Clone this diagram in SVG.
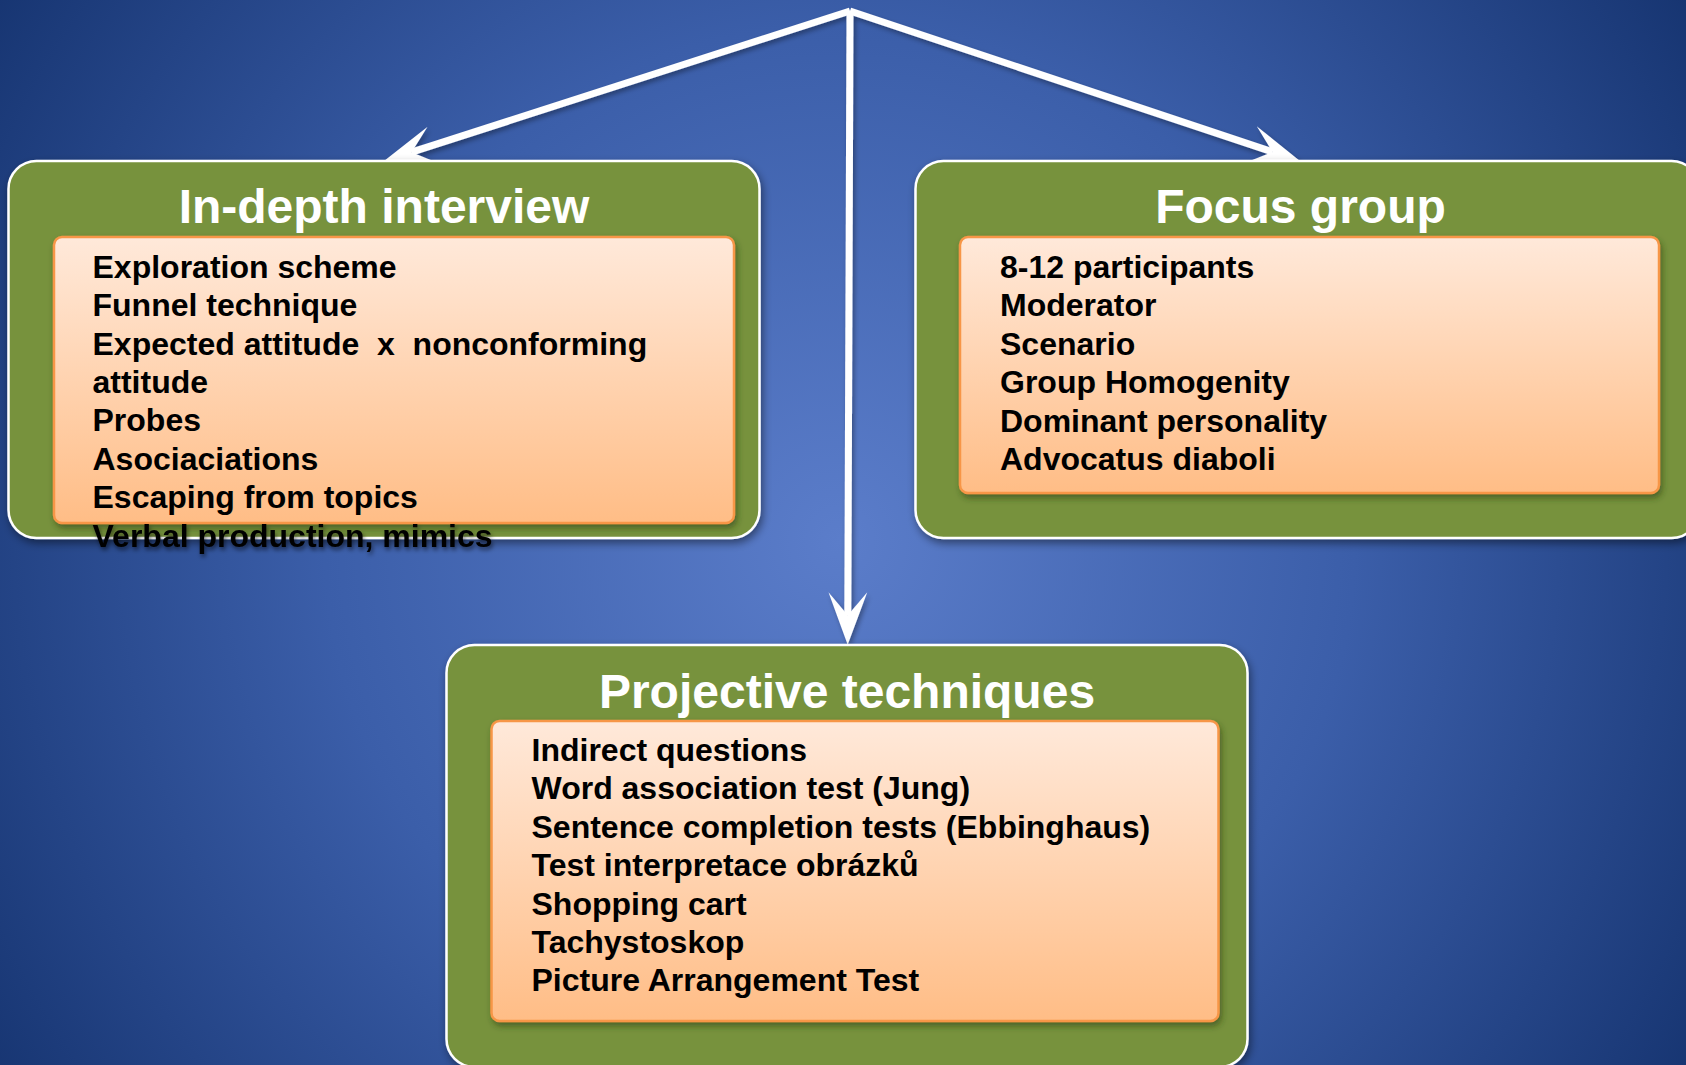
<svg xmlns="http://www.w3.org/2000/svg" width="1686" height="1065" viewBox="0 0 1686 1065">
  <defs>
    <radialGradient id="bg" cx="840" cy="540" r="1030" gradientUnits="userSpaceOnUse">
      <stop offset="0" stop-color="#5b7dca"/>
      <stop offset="0.5" stop-color="#3b5ea9"/>
      <stop offset="1" stop-color="#15336f"/>
    </radialGradient>
    <linearGradient id="peach" x1="0" y1="0" x2="0" y2="1">
      <stop offset="0" stop-color="#ffe9da"/>
      <stop offset="1" stop-color="#ffbd86"/>
    </linearGradient>
    <filter id="boxShadow" x="-5%" y="-5%" width="110%" height="115%">
      <feDropShadow dx="2" dy="4" stdDeviation="4" flood-color="#000" flood-opacity="0.45"/>
    </filter>
    <filter id="innerShadow" x="-5%" y="-5%" width="110%" height="115%">
      <feDropShadow dx="2" dy="4" stdDeviation="3" flood-color="#2a3a10" flood-opacity="0.55"/>
    </filter>
    <filter id="lineShadow" x="-10%" y="-10%" width="120%" height="120%">
      <feDropShadow dx="2" dy="3" stdDeviation="2.5" flood-color="#000" flood-opacity="0.35"/>
    </filter>
    <filter id="textShadow" x="-5%" y="-30%" width="110%" height="170%">
      <feDropShadow dx="1.5" dy="3" stdDeviation="2" flood-color="#000" flood-opacity="0.5"/>
    </filter>
    <marker id="arrow" markerUnits="userSpaceOnUse" markerWidth="60" markerHeight="44" viewBox="-24 -21 54 42" refX="0" refY="0" orient="auto">
      <path d="M28,0 L-22,-18.5 L0,0 L-22,18.5 Z" fill="#ffffff"/>
    </marker>
    <style>
      .outer { fill: #77923c; stroke: #ffffff; stroke-width: 2.5; filter: url(#boxShadow); }
      .inner { fill: url(#peach); stroke: #f79646; stroke-width: 2.5; filter: url(#innerShadow); }
      .title { font-family: "Liberation Sans", Arial, sans-serif; font-weight: bold; font-size: 48px; fill: #ffffff; text-anchor: middle; }
      .body { font-family: "Liberation Sans", Arial, sans-serif; font-weight: bold; font-size: 32px; fill: #000000; }
      .overflow { filter: url(#textShadow); }
      .conn { fill: none; stroke: #ffffff; stroke-width: 7; stroke-linejoin: miter; marker-end: url(#arrow); }
    </style>
  </defs>

  <!-- backdrop -->
  <rect x="0" y="0" width="1686" height="1065" fill="url(#bg)"/>

  <!-- connectors: three arrows fanning out from the top centre -->
  <g id="connectors" filter="url(#lineShadow)">
    <path class="conn" d="M850,11 L411.6,152.2"/>
    <path class="conn" d="M850,11 L1272.5,151.9"/>
    <path class="conn" d="M850,11 L847.8,615.3"/>
  </g>

  <!-- In-depth interview -->
  <g id="node-indepth">
    <rect class="outer" x="8.5" y="161" width="751" height="377" rx="28"/>
    <rect class="inner" x="54" y="237" width="680" height="286" rx="8"/>
    <text class="title" x="384" y="223">In-depth interview</text>
    <g class="body">
      <text x="92.5" y="277.7">Exploration scheme</text>
      <text x="92.5" y="316.1">Funnel technique</text>
      <text x="92.5" y="354.5" xml:space="preserve">Expected attitude  x  nonconforming</text>
      <text x="92.5" y="392.9">attitude</text>
      <text x="92.5" y="431.3">Probes</text>
      <text x="92.5" y="469.7">Asociaciations</text>
      <text x="92.5" y="508.1">Escaping from topics</text>
      <text class="overflow" x="92.5" y="546.5">Verbal production, mimics</text>
    </g>
  </g>

  <!-- Focus group -->
  <g id="node-focus">
    <rect class="outer" x="915.5" y="161" width="784" height="377" rx="28"/>
    <rect class="inner" x="960" y="237" width="699" height="256" rx="8"/>
    <text class="title" x="1300.5" y="223">Focus group</text>
    <g class="body">
      <text x="1000" y="278">8-12 participants</text>
      <text x="1000" y="316.4">Moderator</text>
      <text x="1000" y="354.8">Scenario</text>
      <text x="1000" y="393.2">Group Homogenity</text>
      <text x="1000" y="431.6">Dominant personality</text>
      <text x="1000" y="470">Advocatus diaboli</text>
    </g>
  </g>

  <!-- Projective techniques -->
  <g id="node-projective">
    <rect class="outer" x="446.5" y="645" width="801" height="422" rx="28"/>
    <rect class="inner" x="491.5" y="721" width="727" height="300" rx="8"/>
    <text class="title" x="847" y="708">Projective techniques</text>
    <g class="body">
      <text x="531.5" y="761">Indirect questions</text>
      <text x="531.5" y="799.4">Word association test (Jung)</text>
      <text x="531.5" y="837.8">Sentence completion tests (Ebbinghaus)</text>
      <text x="531.5" y="876.2">Test interpretace obrázků</text>
      <text x="531.5" y="914.6">Shopping cart</text>
      <text x="531.5" y="953">Tachystoskop</text>
      <text x="531.5" y="991.4">Picture Arrangement Test</text>
    </g>
  </g>
</svg>
